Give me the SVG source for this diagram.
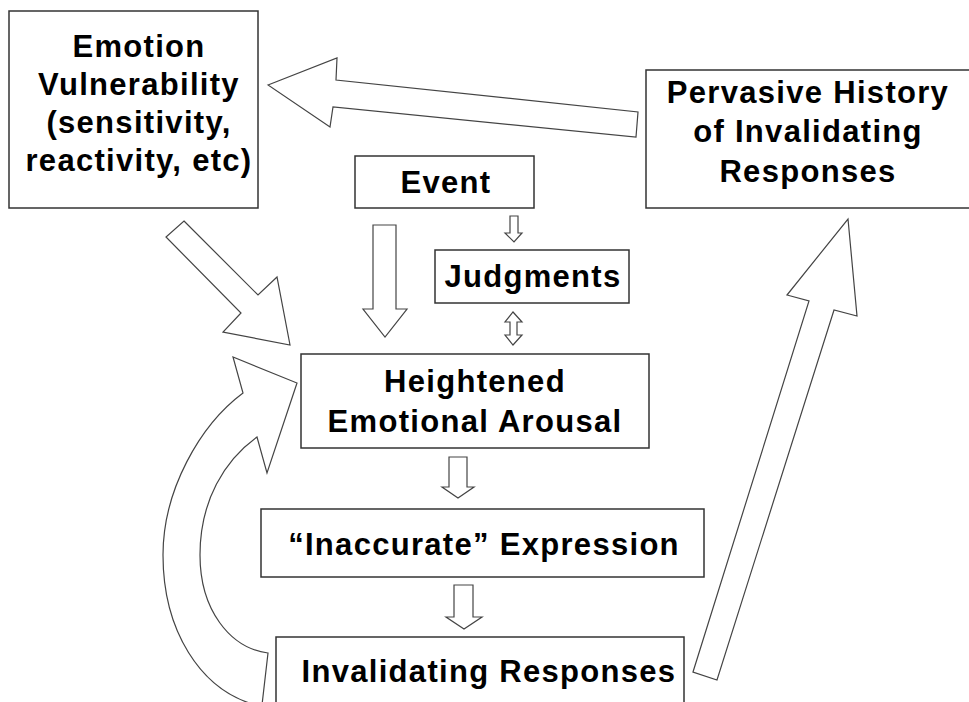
<svg xmlns="http://www.w3.org/2000/svg" width="969" height="702" viewBox="0 0 969 702">
<style>
.box{fill:#fff;stroke:#333;stroke-width:1.5}
.arr{fill:#fff;stroke:#444;stroke-width:1.2;stroke-linejoin:miter}
.t{font-family:"Liberation Sans",Arial,sans-serif;font-weight:bold;font-size:31px;letter-spacing:1.3px;fill:#000;text-anchor:middle}
</style>
<rect width="969" height="702" fill="#fff"/>
<g id="connectors">
<polygon class="arr" points="268,85 337,58 336,80 638,112 636,137 333,107 330,127"/>
<polygon class="arr" points="184,221 258,295 277,277 290,345 223,332 241,313 166,237"/>
<polygon class="arr" points="373,225 396,225 396,309 407,309 385,337 363,309 373,309"/>
<polygon class="arr" points="510,216 518,216 518,233 522,233 514,242 505,233 510,233"/>
<polygon class="arr" points="513,312 522,322 517,322 517,335 522,335 513,345 505,335 510,335 510,322 505,322"/>
<polygon class="arr" points="449,457 467,457 467,487 474,487 458,498 442,487 449,487"/>
<polygon class="arr" points="454,585 473,585 473,617 482,617 464,629 446,617 454,617"/>
<polygon class="arr" points="693,672 809,301 787,295 848,219 857,316 834,310 717,680"/>
<path class="arr" d="M256,705 C200,690 163,630 163,555 C163,490 200,425 243,393 L233,357 L297,383 L267,473 L257,437 C225,460 200,500 200,555 C200,610 230,648 268,653 L262,705 Z"/>
</g>
<g id="emotion-vulnerability">
<rect class="box" x="9" y="11" width="249" height="197"/>
<text class="t" x="139" y="57">Emotion</text>
<text class="t" x="139" y="95">Vulnerability</text>
<text class="t" x="139" y="133">(sensitivity,</text>
<text class="t" x="139" y="171">reactivity, etc)</text>
</g>
<g id="pervasive-history">
<rect class="box" x="646" y="70" width="330" height="138"/>
<text class="t" x="808" y="103">Pervasive History</text>
<text class="t" x="808" y="142">of Invalidating</text>
<text class="t" x="808" y="182">Responses</text>
</g>
<g id="event">
<rect class="box" x="355" y="156" width="179" height="52"/>
<text class="t" x="446" y="193">Event</text>
</g>
<g id="judgments">
<rect class="box" x="435" y="250" width="194" height="53"/>
<text class="t" x="533" y="287">Judgments</text>
</g>
<g id="heightened-arousal">
<rect class="box" x="301" y="354" width="348" height="94"/>
<text class="t" x="475" y="392">Heightened</text>
<text class="t" x="475" y="432">Emotional Arousal</text>
</g>
<g id="inaccurate-expression">
<rect class="box" x="261" y="509" width="443" height="68"/>
<text class="t" x="484" y="555">“Inaccurate” Expression</text>
</g>
<g id="invalidating-responses">
<rect class="box" x="276" y="637" width="408" height="80"/>
<text class="t" x="489" y="682">Invalidating Responses</text>
</g>
</svg>
